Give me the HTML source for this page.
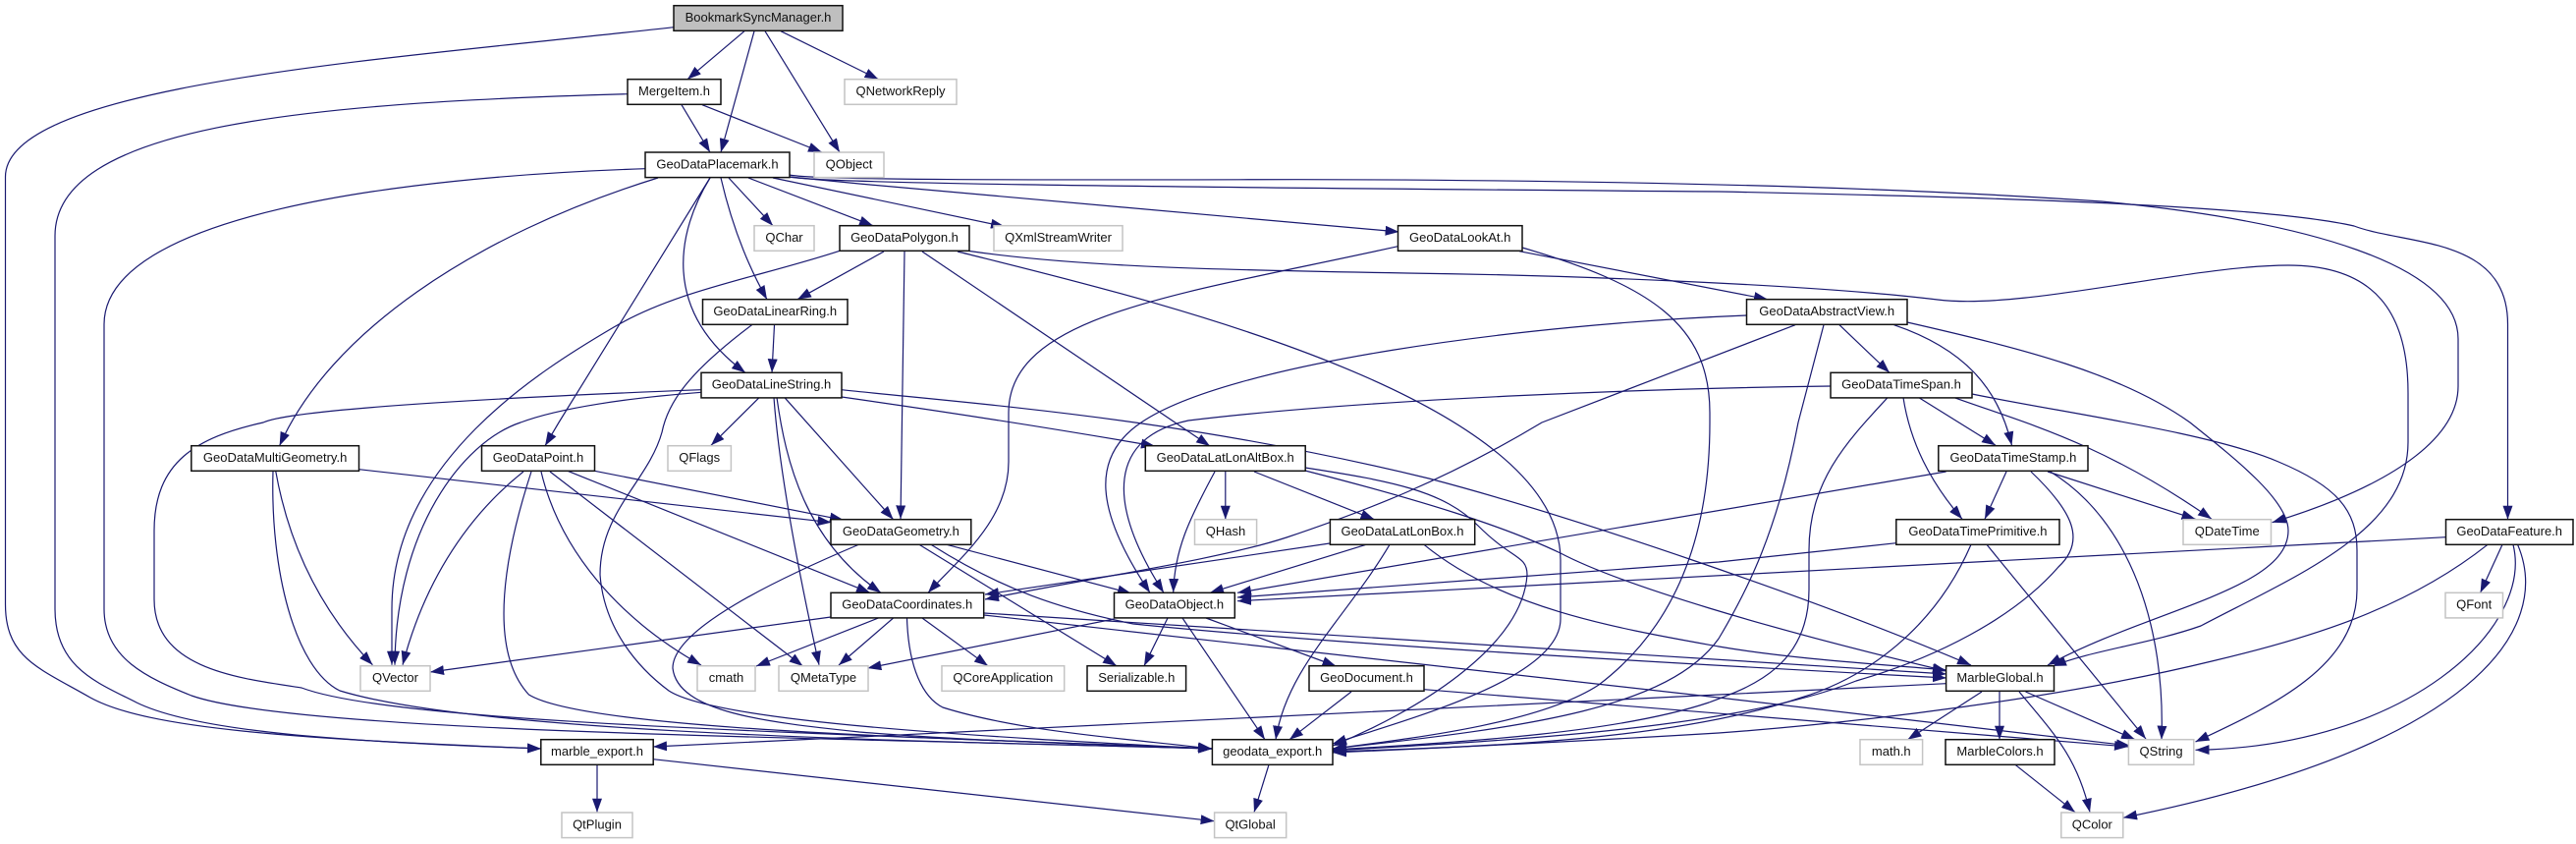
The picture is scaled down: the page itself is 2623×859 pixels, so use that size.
<!DOCTYPE html>
<html><head><meta charset="utf-8"><title>BookmarkSyncManager.h include graph</title>
<style>html,body{margin:0;padding:0;background:#fff}svg{display:block}
text{font-family:"Liberation Sans",Arial,sans-serif;font-size:13px;text-anchor:middle;fill:#111;transform:translateY(-1px)}
.n rect{fill:#fff;stroke:#111;stroke-width:1.5}
.g rect{fill:#fff;stroke:#c4c4c4;stroke-width:1.5}
.s rect{fill:#bfbfbf;stroke:#111;stroke-width:1.5}
.e path{fill:none;stroke:#191970;stroke-width:1.2;marker-end:url(#a)}
</style></head><body>
<svg width="2623" height="859" viewBox="0 0 2623 859" xmlns="http://www.w3.org/2000/svg">
<defs><marker id="a" markerUnits="userSpaceOnUse" markerWidth="14" markerHeight="10" refX="14" refY="5" orient="auto"><path d="M0,0L14,5L0,10z" fill="#191970"/></marker></defs>
<g class="e">
<path d="M686,27.7C400,60 5.5,85 5.5,180V615C5.5,670 40,680 92,710C150,742 300,752 551,762"/>
<path d="M758,31.7L700,80.7"/>
<path d="M768,31.7L734,155"/>
<path d="M779,31.7L855,155"/>
<path d="M795,31.7L894.5,80.7"/>
<path d="M639,95.7C300,105 56,130 56,240V620C56,680 100,695 139,715C200,745 350,755 551,762"/>
<path d="M694,106.7L723,155"/>
<path d="M715,106.7L837,155"/>
<path d="M657,171.7C400,180 106,220 106,330V620C106,670 150,690 195,708C300,745 800,750 1234.4,762"/>
<path d="M670,181C480,240 335,340 284.6,453.7"/>
<path d="M723,181L569,430L555,453.7"/>
<path d="M723,181C690,235 672,315 759,379.3"/>
<path d="M734,181Q750,250 781,304.7"/>
<path d="M742,181L787,229.7"/>
<path d="M762,181L889,229.7"/>
<path d="M787,181L1023,230.6"/>
<path d="M804,180L875,187L1424.6,236"/>
<path d="M804,180C830,186 1100,190 1750,195C2000,200 2300,208 2397,230C2450,250 2553.5,240 2553.5,330V528.7"/>
<path d="M804,178C830,184 1100,183 1321,182.7C1500,183 1850,185 2140,205C2350,225 2503,270 2503,345V393C2503,440 2450,490 2313.6,531.7"/>
<path d="M987,255.5C1100,272 1250,275 1433,278C1600,280 1850,290 1973,305C2060,316 2230,270 2330,270C2420,270 2452,320 2452,400V450C2452,540 2340,585 2241,637C2190,655 2130,662 2090,678"/>
<path d="M1550,252C1680,290 1741,330 1741,420V430C1741,570 1690,650 1628,697C1570,735 1450,750 1357,762"/>
<path d="M1547,255.7L1800,304.7"/>
<path d="M1423.5,250.7C1200,300 1027,320 1027,420V470C1027,530 975,570 945,603.3"/>
<path d="M855,255.3C770,283 690,295 625,333C550,377 399,470 399,620V676.7"/>
<path d="M900,256L812,304.7"/>
<path d="M921,256L917,528.3"/>
<path d="M939,256L1232,454"/>
<path d="M975,256C1150,300 1589,400 1589,570V630C1589,690 1440,730 1357,757"/>
<path d="M788.5,330.7L786,379.3"/>
<path d="M765.6,330.7C700,380 680,410 674,440C660,490 611,520 611,585C615,640 650,680 681,703C730,735 1000,750 1234,762"/>
<path d="M857,396.7C1000,412 1200,425 1455,487C1600,525 1850,610 2007,677"/>
<path d="M857,404Q1026,428 1176,454"/>
<path d="M714,396.7C550,403 300,415 268,430C200,445 157,470 157,540V610C157,680 240,690 307,700C400,735 800,745 1234,762"/>
<path d="M714,399.3C640,405 570,415 530,430C470,450 403,540 402,676.7"/>
<path d="M773,404.7L724,453.3"/>
<path d="M788,404.7Q795,500 834,676.7"/>
<path d="M791,404.7C800,470 820,550 897,603.3"/>
<path d="M799,404.7L909.6,528.7"/>
<path d="M365.5,477.7L846.5,531.7"/>
<path d="M280.7,479.3C295,560 330,625 379.4,676.7"/>
<path d="M278,479.3C275,580 300,680 346,703C500,750 1000,755 1234,762"/>
<path d="M605.5,479.3L859,529.3"/>
<path d="M578,479.3L886,603.3"/>
<path d="M533,480C470,530 430,600 410,676.7"/>
<path d="M541,480C515,560 495,660 538.5,707C600,745 1000,752 1234,762"/>
<path d="M551,480C570,560 630,630 714,677"/>
<path d="M560,480L817.5,678"/>
<path d="M964,554.3L1152,604"/>
<path d="M936,554.3L1137,677.7"/>
<path d="M948,554.3C1020,600 1080,620 1154,635C1350,655 1700,675 1982,690"/>
<path d="M875,554C790,590 685,640 685,680C690,725 780,735 875,745C1000,755 1130,758 1234,762"/>
<path d="M1329,476C1420,490 1470,500 1505,535C1540,570 1555,565 1555,585C1550,660 1440,725 1357,759"/>
<path d="M1329,479C1450,510 1530,535 1589,563C1650,595 1800,640 1982,683"/>
<path d="M1237,480C1210,530 1196,560 1194.7,603"/>
<path d="M1247.8,480V528.7"/>
<path d="M1277,480L1399.5,528.7"/>
<path d="M1778.5,321C1550,330 1250,370 1162,430C1110,465 1115,520 1171,603.3"/>
<path d="M1864,393C1700,395 1400,405 1210,428C1130,445 1125,510 1185,603.3"/>
<path d="M1828,330.7L1570,430C1470,490 1390,520 1310,547C1240,570 1100,590 1003,610"/>
<path d="M1857,330.7L1831,430C1810,540 1780,600 1750,650C1700,720 1560,740 1357,762"/>
<path d="M1873,330.7L1924,379.3"/>
<path d="M1928.6,330.7C2000,355 2035,395 2048.5,453.3"/>
<path d="M1942,328C2060,355 2160,380 2230,430C2280,470 2330,510 2330,540C2330,600 2190,620 2085,677"/>
<path d="M1922,404.7C1880,450 1842,490 1842,560V600C1842,680 1780,700 1740,715C1650,745 1500,755 1357,763"/>
<path d="M1938,404.7C1945,450 1965,490 1998,528.3"/>
<path d="M1954,404.7L2032,453.3"/>
<path d="M1990,404.7C2060,430 2140,450 2252,528.3"/>
<path d="M2008,401C2100,420 2250,440 2320,470C2380,495 2400,520 2400,560V600C2400,680 2310,720 2235.5,755"/>
<path d="M1981.6,480L1260,603.3"/>
<path d="M2043,480L2021,528.3"/>
<path d="M2068,480C2110,520 2125,550 2096,577C2050,630 1970,670 1890,693C1760,745 1500,755 1357,764"/>
<path d="M2085,480L2235.5,528.3"/>
<path d="M2087.6,480C2170,530 2205,640 2201,752.7"/>
<path d="M1931,552.7L1750,572L1260,608"/>
<path d="M2007,554.3C1970,640 1900,690 1834,710C1700,755 1500,760 1357,765"/>
<path d="M2023,554.3L2185,752"/>
<path d="M1354,553L1003,605"/>
<path d="M1391,554.3L1232,603.3"/>
<path d="M1415,554.3C1370,630 1310,680 1299,752.7"/>
<path d="M1450,554.3C1530,620 1650,640 1750,658C1820,670 1900,675 1982,682"/>
<path d="M846,628L438,684"/>
<path d="M894.5,629L770,678"/>
<path d="M909.6,629L854,677"/>
<path d="M939,629L1006,677.7"/>
<path d="M923.5,629C925,680 940,710 960,720C1040,745 1150,752 1234,762"/>
<path d="M1002,624L1982,686"/>
<path d="M1002,626L1750,710L2169,759"/>
<path d="M1134.5,630L883.4,680"/>
<path d="M1189,629L1165,677.7"/>
<path d="M1204,629L1288,752.7"/>
<path d="M1228,629L1360.5,678"/>
<path d="M1376,704L1313,752.7"/>
<path d="M1450,701.7L2167,760"/>
<path d="M1292,778.3L1277,826.7"/>
<path d="M608,778.3V826.7"/>
<path d="M665,772.7L1236.6,835.7"/>
<path d="M1981.6,695.7L1750,707L875,750L665,760"/>
<path d="M2018,704L1942.5,752.7"/>
<path d="M2036,704V752.7"/>
<path d="M2062.5,704L2174,752.7"/>
<path d="M2056,704C2090,745 2115,770 2128,826.7"/>
<path d="M2052.5,778.7L2113,826.7"/>
<path d="M2490.5,546.7L1260,611.7"/>
<path d="M2533,554.3C2450,620 2350,650 2252,673C2100,710 1900,735 1750,746C1600,755 1450,762 1357,766"/>
<path d="M2548,554.3L2525.6,603.3"/>
<path d="M2559,554.3C2580,640 2450,760 2235.5,763.3"/>
<path d="M2563.6,554.3C2600,640 2520,760 2162,832.3"/>
</g>
<g class="s"><rect x="686" y="5.7" width="172" height="25.6"/><text x="772" y="23">BookmarkSyncManager.h</text></g>
<g class="n">
<rect x="639" y="80.7" width="95" height="25.6"/><text x="686.5" y="98">MergeItem.h</text>
<rect x="657" y="155" width="147" height="25.6"/><text x="730.5" y="172.3">GeoDataPlacemark.h</text>
<rect x="855" y="229.7" width="132" height="25.6"/><text x="921" y="247">GeoDataPolygon.h</text>
<rect x="1423.5" y="229.7" width="126.5" height="25.6"/><text x="1486.7" y="247">GeoDataLookAt.h</text>
<rect x="715.5" y="304.7" width="147.5" height="25.6"/><text x="789.2" y="322">GeoDataLinearRing.h</text>
<rect x="1778.5" y="304.7" width="163.5" height="25.6"/><text x="1860.2" y="322">GeoDataAbstractView.h</text>
<rect x="714" y="379.3" width="143" height="25.6"/><text x="785.5" y="396.6">GeoDataLineString.h</text>
<rect x="1864" y="379.3" width="144" height="25.6"/><text x="1936" y="396.6">GeoDataTimeSpan.h</text>
<rect x="194.8" y="453.7" width="170.7" height="25.6"/><text x="280.1" y="471">GeoDataMultiGeometry.h</text>
<rect x="490.5" y="453.7" width="115" height="25.6"/><text x="548" y="471">GeoDataPoint.h</text>
<rect x="1166.3" y="453.7" width="162.9" height="25.6"/><text x="1247.7" y="471">GeoDataLatLonAltBox.h</text>
<rect x="1973.8" y="453.7" width="152.2" height="25.6"/><text x="2049.9" y="471">GeoDataTimeStamp.h</text>
<rect x="846" y="528.7" width="142.8" height="25.6"/><text x="917.4" y="546">GeoDataGeometry.h</text>
<rect x="1354.4" y="528.7" width="147.3" height="25.6"/><text x="1428" y="546">GeoDataLatLonBox.h</text>
<rect x="1930.8" y="528.7" width="166.2" height="25.6"/><text x="2013.9" y="546">GeoDataTimePrimitive.h</text>
<rect x="2490.5" y="528.7" width="129.5" height="25.6"/><text x="2555.2" y="546">GeoDataFeature.h</text>
<rect x="846" y="603.3" width="155.7" height="25.6"/><text x="923.8" y="620.6">GeoDataCoordinates.h</text>
<rect x="1134.5" y="603.3" width="122.8" height="25.6"/><text x="1195.9" y="620.6">GeoDataObject.h</text>
<rect x="1107" y="677.7" width="100.6" height="25.6"/><text x="1157.3" y="695">Serializable.h</text>
<rect x="1333" y="677.7" width="117" height="25.6"/><text x="1391.5" y="695">GeoDocument.h</text>
<rect x="1981.6" y="677.7" width="109.9" height="25.6"/><text x="2036.5" y="695">MarbleGlobal.h</text>
<rect x="550.8" y="752.7" width="114.4" height="25.6"/><text x="608" y="770">marble_export.h</text>
<rect x="1234.4" y="752.7" width="122.6" height="25.6"/><text x="1295.7" y="770">geodata_export.h</text>
<rect x="1981" y="752.7" width="111" height="25.6"/><text x="2036.5" y="770">MarbleColors.h</text>
</g>
<g class="g">
<rect x="860" y="80.7" width="114" height="25.6"/><text x="917" y="98">QNetworkReply</text>
<rect x="829" y="155" width="71" height="25.6"/><text x="864.5" y="172.3">QObject</text>
<rect x="768" y="229.7" width="61" height="25.6"/><text x="798.5" y="247">QChar</text>
<rect x="1012" y="229.7" width="131" height="25.6"/><text x="1077.5" y="247">QXmlStreamWriter</text>
<rect x="680" y="453.7" width="64.4" height="25.6"/><text x="712.2" y="471">QFlags</text>
<rect x="1216.5" y="528.7" width="63.1" height="25.6"/><text x="1248" y="546">QHash</text>
<rect x="2223" y="528.7" width="89.5" height="25.6"/><text x="2267.7" y="546">QDateTime</text>
<rect x="2490" y="603.3" width="58.5" height="25.6"/><text x="2519.2" y="620.6">QFont</text>
<rect x="367" y="677.7" width="71" height="25.6"/><text x="402.5" y="695">QVector</text>
<rect x="710" y="677.7" width="59" height="25.6"/><text x="739.5" y="695">cmath</text>
<rect x="793" y="677.7" width="91" height="25.6"/><text x="838.5" y="695">QMetaType</text>
<rect x="959" y="677.7" width="124.7" height="25.6"/><text x="1021.3" y="695">QCoreApplication</text>
<rect x="1894" y="752.7" width="63.6" height="25.6"/><text x="1925.8" y="770">math.h</text>
<rect x="2167.4" y="752.7" width="66.4" height="25.6"/><text x="2200.6" y="770">QString</text>
<rect x="572" y="827" width="72" height="25.6"/><text x="608" y="844.3">QtPlugin</text>
<rect x="1236.6" y="827" width="73.1" height="25.6"/><text x="1273.1" y="844.3">QtGlobal</text>
<rect x="2098.8" y="827" width="63" height="25.6"/><text x="2130.3" y="844.3">QColor</text>
</g>
</svg>
</body></html>
